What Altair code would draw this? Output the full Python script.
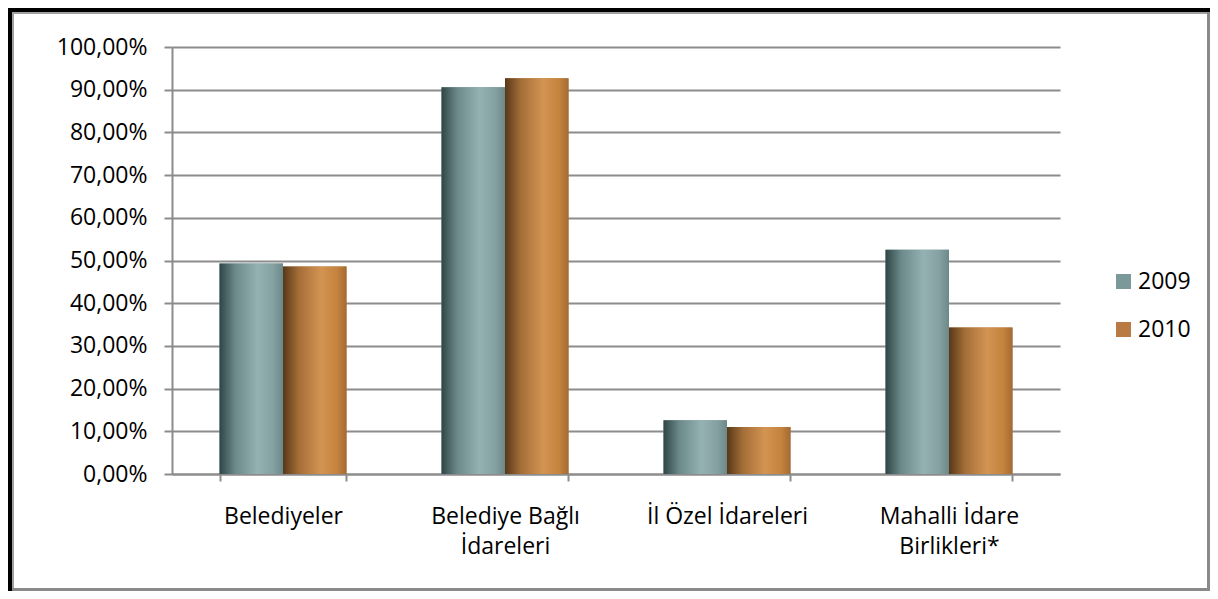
import altair as alt
import pandas as pd

categories = ["Belediyeler", "Belediye Bağlı\nİdareleri", "İl Özel İdareleri", "Mahalli İdare\nBirlikleri*"]
years = ["2009", "2010"]
values_2009 = [0.493, 0.906, 0.126, 0.525]
values_2010 = [0.486, 0.927, 0.110, 0.343]
y_ticks = [0, 0.1, 0.2, 0.3, 0.4, 0.5, 0.6, 0.7, 0.8, 0.9, 1.0]
legend_colors = ["#7b9999", "#b97b43"]

rows = []
for c, v in zip(categories, values_2009):
    rows.append({"cat": c, "year": "2009", "value": v})
for c, v in zip(categories, values_2010):
    rows.append({"cat": c, "year": "2010", "value": v})
df = pd.DataFrame(rows)

FONT = "Open Sans"
FS = 23
GRID = "#8c8c8c"

teal = alt.LinearGradient(
    gradient="linear", x1=0, x2=1, y1=0, y2=0,
    stops=[
        alt.GradientStop(offset=0.0, color="#2f4546"),
        alt.GradientStop(offset=0.25, color="#6d8a8a"),
        alt.GradientStop(offset=0.6, color="#95b2b2"),
        alt.GradientStop(offset=0.85, color="#84a0a0"),
        alt.GradientStop(offset=1.0, color="#6c8888"),
    ],
)
orange = alt.LinearGradient(
    gradient="linear", x1=0, x2=1, y1=0, y2=0,
    stops=[
        alt.GradientStop(offset=0.0, color="#583819"),
        alt.GradientStop(offset=0.25, color="#a46e38"),
        alt.GradientStop(offset=0.6, color="#d39452"),
        alt.GradientStop(offset=0.85, color="#c4843f"),
        alt.GradientStop(offset=1.0, color="#a46a32"),
    ],
)

x_enc = alt.X(
    "cat:N", sort=categories,
    scale=alt.Scale(domain=categories, paddingInner=0.428, paddingOuter=0.214),
    axis=alt.Axis(
        title=None, labelAngle=0, labelExpr="split(datum.label, '\\n')",
        labelFont=FONT, labelFontSize=FS, labelColor="black", labelLineHeight=30,
        labelPadding=24, tickBand="extent", tickSize=7, tickColor=GRID, tickWidth=2,
        domainColor=GRID, domainWidth=2, grid=False,
    ),
)
xoff_enc = alt.XOffset("year:N", sort=years, scale=alt.Scale(domain=years, paddingInner=0, paddingOuter=0))
y_enc = alt.Y(
    "value:Q",
    scale=alt.Scale(domain=[0, 1], nice=False, zero=True),
    axis=alt.Axis(
        title=None, values=y_ticks,
        labelExpr="replace(format(datum.value, '.2%'), '.', ',')",
        labelFont=FONT, labelFontSize=FS, labelColor="black", labelPadding=17,
        tickSize=8, tickColor=GRID, tickWidth=2, domainColor=GRID, domainWidth=2,
        grid=True, gridColor=GRID, gridWidth=2,
    ),
)

base = alt.Chart(df).encode(x=x_enc, xOffset=xoff_enc, y=y_enc)

legend_layer = base.mark_bar().encode(
    color=alt.Color(
        "year:N", sort=years,
        scale=alt.Scale(domain=years, range=legend_colors),
        legend=alt.Legend(
            title=None, orient="none", legendX=940, legendY=223,
            symbolType="square", symbolSize=225, symbolStrokeWidth=0,
            labelFont=FONT, labelFontSize=FS, labelColor="black",
            labelOffset=3, rowPadding=24,
        ),
    )
)
g09 = base.transform_filter(alt.datum.year == "2009").mark_bar(fill=teal)
g10 = base.transform_filter(alt.datum.year == "2010").mark_bar(fill=orange)

frame_df = pd.DataFrame({"k": [0]})
fr = alt.Chart(frame_df)
# view origin is at screen (172, 47); chart spans screen 8..1210 x 8..591
R = 1038
B = 544
black_left = fr.mark_rect(color="black").encode(
    x=alt.value(-164), x2=alt.value(-160), y=alt.value(-39), y2=alt.value(B))
black_top = fr.mark_rect(color="black").encode(
    x=alt.value(-164), x2=alt.value(R), y=alt.value(-39), y2=alt.value(-35))
gray_left = fr.mark_rect(color="#a0a0a0").encode(
    x=alt.value(-160), x2=alt.value(-158), y=alt.value(-35), y2=alt.value(B))
gray_top = fr.mark_rect(color="#a0a0a0").encode(
    x=alt.value(-160), x2=alt.value(R), y=alt.value(-35), y2=alt.value(-33))
gray_right = fr.mark_rect(color="#8a8a8a").encode(
    x=alt.value(R - 3), x2=alt.value(R), y=alt.value(-35), y2=alt.value(B))
gray_bottom = fr.mark_rect(color="#8a8a8a").encode(
    x=alt.value(-160), x2=alt.value(R), y=alt.value(B - 3), y2=alt.value(B))

chart = alt.layer(
    black_left, black_top, gray_left, gray_top, gray_right, gray_bottom,
    legend_layer, g09, g10,
).properties(
    width=888, height=427,
    autosize=alt.AutoSizeParams(type="none"),
    padding={"left": 164, "top": 39, "right": 150, "bottom": 117},
    background="white",
).configure_view(stroke=None)

chart.save("out.html", embed_options={"renderer": "svg", "actions": False})
